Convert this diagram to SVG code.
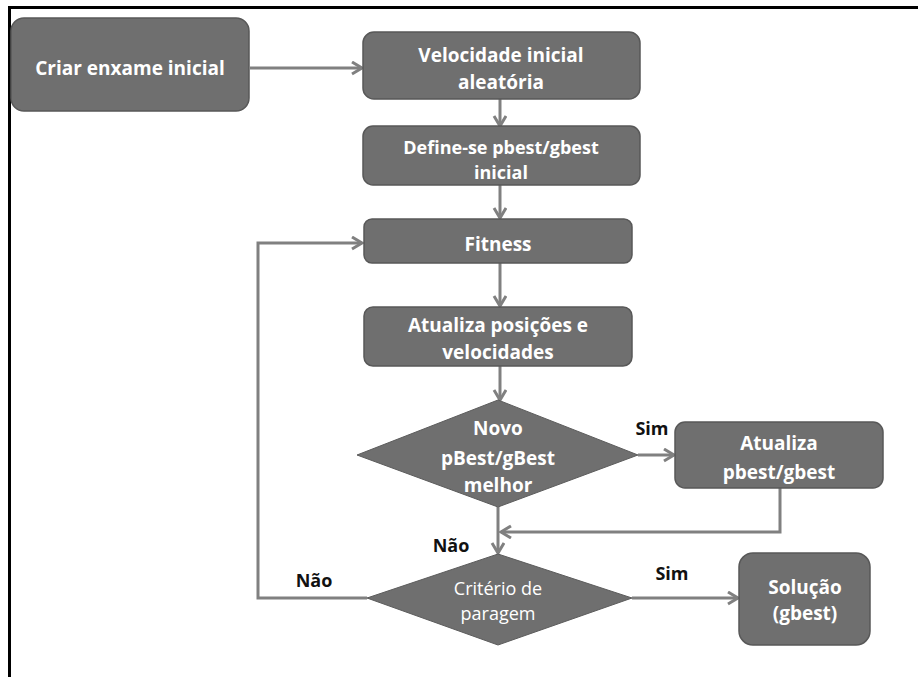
<svg xmlns="http://www.w3.org/2000/svg" width="918" height="677" viewBox="0 0 918 677">
  <defs>
    <marker id="arrow" markerUnits="userSpaceOnUse" markerWidth="14" markerHeight="16" refX="11" refY="7" orient="auto">
      <path d="M1,1 L11,7 L1,13" fill="none" stroke="#808080" stroke-width="3"/>
    </marker>
  </defs>
  <style>
    .box { fill: #6f6f6f; stroke: #585858; stroke-width: 1.5; }
    .dec { fill: #6f6f6f; stroke: #5c5c5c; stroke-width: 1; }
    .lbl { font-family: "Open Sans", Lato, "Liberation Sans", sans-serif; font-weight: bold; font-size: 19px; fill: #ffffff; text-anchor: middle; dominant-baseline: central; }
    .lbl.tight { font-size: 18px; }
    .lbl.thin { font-weight: normal; font-size: 18px; }
    .tag { font-family: "Open Sans", Lato, "Liberation Sans", sans-serif; font-weight: bold; font-size: 18px; fill: #111111; text-anchor: middle; dominant-baseline: central; }
    .conn { fill: none; stroke: #808080; stroke-width: 3; }
    .frame { stroke: #000000; stroke-width: 3; fill: none; }
  </style>

  <rect width="918" height="677" fill="#ffffff"/>

  <!-- outer frame: top and left edges only -->
  <path class="frame" d="M9.5,677 V7.5 H918"/>

  <g id="connectors">
    <path class="conn" d="M250,68 H362" marker-end="url(#arrow)"/>
    <path class="conn" d="M500,99 V126" marker-end="url(#arrow)"/>
    <path class="conn" d="M500,185 V218" marker-end="url(#arrow)"/>
    <path class="conn" d="M500,263 V306" marker-end="url(#arrow)"/>
    <path class="conn" d="M500,366 V400" marker-end="url(#arrow)"/>
    <path class="conn" d="M638,455 H674" marker-end="url(#arrow)"/>
    <path class="conn" d="M780,488 V532 H501" marker-end="url(#arrow)"/>
    <path class="conn" d="M498,507 V553" marker-end="url(#arrow)"/>
    <path class="conn" d="M632,598 H738" marker-end="url(#arrow)"/>
    <path class="conn" d="M367,598 H258 V243 H362" marker-end="url(#arrow)"/>
  </g>

  <g id="criar-enxame">
    <rect class="box" x="11" y="18" width="238" height="93" rx="13"/>
    <text class="lbl" x="130" y="68">Criar enxame inicial</text>
  </g>

  <g id="velocidade-inicial">
    <rect class="box" x="363" y="32" width="277" height="67" rx="11"/>
    <text class="lbl" x="501" y="55">Velocidade inicial</text>
    <text class="lbl" x="501" y="82">aleatória</text>
  </g>

  <g id="define-pbest">
    <rect class="box" x="363" y="126" width="277" height="59" rx="10"/>
    <text class="lbl tight" x="501" y="147">Define-se pbest/gbest</text>
    <text class="lbl tight" x="501" y="172">inicial</text>
  </g>

  <g id="fitness">
    <rect class="box" x="364" y="219" width="268" height="44" rx="8"/>
    <text class="lbl" x="498" y="244">Fitness</text>
  </g>

  <g id="atualiza-posicoes">
    <rect class="box" x="364" y="307" width="268" height="59" rx="9"/>
    <text class="lbl" x="498" y="325">Atualiza posições e</text>
    <text class="lbl" x="498" y="352">velocidades</text>
  </g>

  <g id="novo-best">
    <polygon class="dec" points="498,400 638,455 498,507 357,455"/>
    <text class="lbl" x="498" y="428">Novo</text>
    <text class="lbl" x="498" y="458">pBest/gBest</text>
    <text class="lbl" x="498" y="485">melhor</text>
  </g>

  <g id="atualiza-best">
    <rect class="box" x="675" y="422" width="208" height="66" rx="10"/>
    <text class="lbl" x="779" y="443">Atualiza</text>
    <text class="lbl" x="779" y="472">pbest/gbest</text>
  </g>

  <g id="criterio-paragem">
    <polygon class="dec" points="498,554 632,598 498,645 367,598"/>
    <text class="lbl thin" x="498" y="588">Critério de</text>
    <text class="lbl thin" x="498" y="613">paragem</text>
  </g>

  <g id="solucao">
    <rect class="box" x="739" y="553" width="131" height="92" rx="14"/>
    <text class="lbl" x="805" y="587">Solução</text>
    <text class="lbl" x="805" y="613">(gbest)</text>
  </g>

  <g id="labels">
    <text class="tag" x="652" y="428">Sim</text>
    <text class="tag" x="451" y="545">Não</text>
    <text class="tag" x="314" y="580">Não</text>
    <text class="tag" x="672" y="573">Sim</text>
  </g>
</svg>
